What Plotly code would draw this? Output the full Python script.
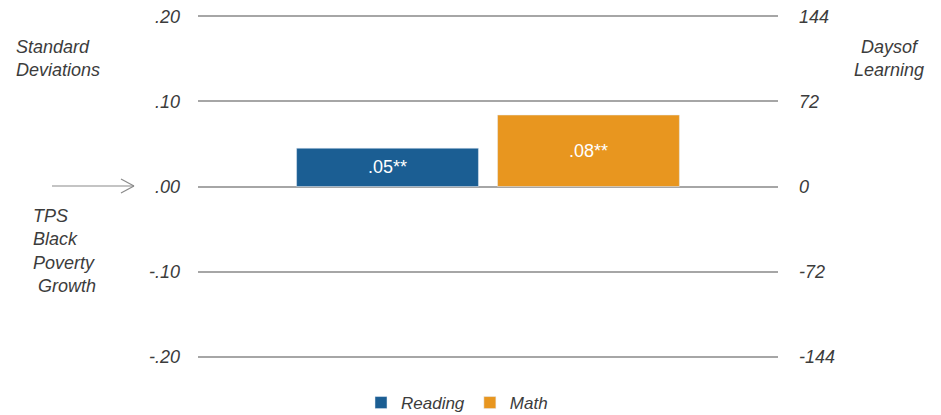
import plotly.graph_objects as go

# Data
category = ["TPS Black Poverty Growth"]
series_names = ["Reading", "Math"]
reading_sd = [0.045]
math_sd = [0.084]
bar_labels_reading = [".05**"]
bar_labels_math = [".08**"]
left_tickvals = [-0.20, -0.10, 0.00, 0.10, 0.20]
left_ticktext = ["-.20", "-.10", ".00", ".10", ".20"]
right_tickvals = [-144, -72, 0, 72, 144]
right_ticktext = ["-144", "-72", "0", "72", "144"]
colors = ["#1b5e93", "#e8961f"]

FONT = "Liberation Sans, Arial, sans-serif"
TXT = "#3c3c3c"
GRID = "#a6a6a6"

W, H = 941, 415
L, R, T, B = 198, 163, 12, 54
PW, PH = W - L - R, H - T - B


def px_x(px):
    return (px - L) / PW


def px_y(py):
    return (H - B - py) / PH


fig = go.Figure()
fig.add_trace(go.Bar(
    x=category, y=reading_sd, name=series_names[0], marker_color=colors[0],
    text=bar_labels_reading, textposition="inside", insidetextanchor="middle",
    textfont=dict(color="white", size=18, family=FONT), hoverinfo="skip",
))
fig.add_trace(go.Bar(
    x=category, y=math_sd, name=series_names[1], marker_color=colors[1],
    text=[" <br>" + t for t in bar_labels_math], textposition="inside", insidetextanchor="end",
    textfont=dict(color="white", size=18, family=FONT), hoverinfo="skip",
))
# invisible trace to activate right axis
fig.add_trace(go.Scatter(x=category, y=[0], yaxis="y2", mode="markers",
                         marker=dict(opacity=0), showlegend=False, hoverinfo="skip"))

rng = 0.205
tick_font = dict(family=FONT, color=TXT, size=18, style="italic")
fig.update_layout(
    width=W, height=H,
    margin=dict(l=L, r=R, t=T, b=B, autoexpand=False),
    paper_bgcolor="white", plot_bgcolor="white",
    barmode="group", bargap=0.307, bargroupgap=0.095,
    font=dict(family=FONT, color=TXT, size=18),
    xaxis=dict(visible=False, range=[-0.5, 0.5]),
    yaxis=dict(range=[-rng, rng], tickvals=left_tickvals, ticktext=left_ticktext,
               showgrid=True, gridcolor=GRID, gridwidth=1.6, zeroline=False,
               showline=False, ticks="", ticklabelstandoff=17, automargin=False,
               tickfont=tick_font),
    yaxis2=dict(range=[-rng * 720, rng * 720], overlaying="y", side="right",
                tickvals=right_tickvals, ticktext=right_ticktext,
                showgrid=False, zeroline=False, showline=False, ticks="",
                ticklabelstandoff=20, automargin=False, tickfont=tick_font),
    legend=dict(orientation="h", x=px_x(457), xanchor="center", y=px_y(403), yanchor="middle",
                font=dict(family=FONT, color=TXT, size=17, style="italic"),
                itemwidth=30, traceorder="normal"),
    showlegend=True,
)

ann_font = dict(family=FONT, color=TXT, size=18, style="italic")
fig.add_annotation(xref="paper", yref="paper", x=px_x(14), xanchor="left",
                   y=px_y(59), yanchor="middle", align="left",
                   text="Standard<br>Deviations", showarrow=False, font=ann_font)
fig.add_annotation(xref="paper", yref="paper", x=px_x(889), xanchor="center",
                   y=px_y(59), yanchor="middle", align="center",
                   text="Daysof<br>Learning", showarrow=False, font=ann_font)
fig.add_annotation(xref="paper", yref="paper", x=px_x(31), xanchor="left",
                   y=px_y(251), yanchor="middle", align="left",
                   text="TPS<br>Black<br>Poverty<br> Growth", showarrow=False, font=ann_font)

# arrow pointing at the zero line
ac = "#8a8a8a"
fig.add_shape(type="line", xref="paper", yref="paper", x0=px_x(52), x1=px_x(134),
              y0=px_y(186), y1=px_y(186), line=dict(color=ac, width=1.2))
fig.add_shape(type="line", xref="paper", yref="paper", x0=px_x(121), x1=px_x(134),
              y0=px_y(179), y1=px_y(186), line=dict(color=ac, width=1.2))
fig.add_shape(type="line", xref="paper", yref="paper", x0=px_x(121), x1=px_x(134),
              y0=px_y(193), y1=px_y(186), line=dict(color=ac, width=1.2))

fig.write_html("out.html", config={"displayModeBar": False},
               post_script="document.body.style.margin='0';")
